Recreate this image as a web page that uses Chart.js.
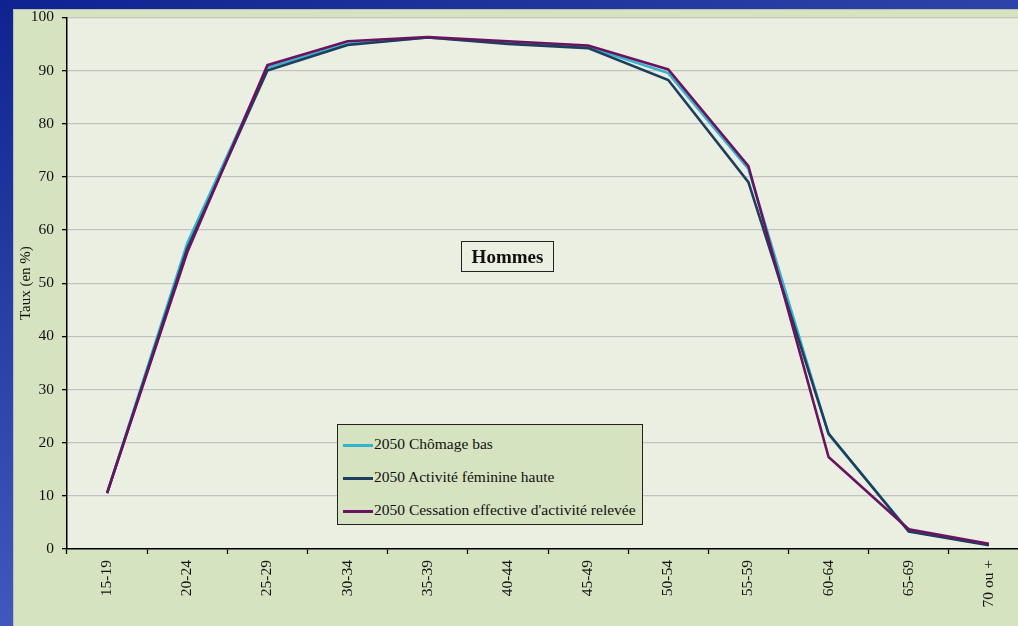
<!DOCTYPE html>
<html>
<head>
<meta charset="utf-8">
<script src="https://cdn.jsdelivr.net/npm/chart.js@4"></script>
<style>
  html, body { margin: 0; padding: 0; width: 1018px; height: 626px; overflow: hidden; }
  body {
    background: linear-gradient(160deg, #0e2390 0%, #2a42a8 35%, #4a62c4 75%, #6378d0 100%);
    position: relative;
    font-family: "Liberation Serif", "DejaVu Serif", serif;
  }
  #panel {
    position: absolute; left: 13px; top: 9px; width: 1020px; height: 630px;
    background: #d5e3c0; border-top: 1px solid #b9c2b0; border-left: 1px solid #b9c2b0;
  }
  #wrap { position: absolute; left: 13px; top: 0px; width: 1016px; height: 626px; }
  #titlebox {
    position: absolute; left: 461px; top: 241px; width: 91px; height: 29px;
    border: 1.5px solid #222; font-weight: bold; font-size: 19px; color: #111;
    text-align: center; line-height: 29px;
  }
  #legend {
    position: absolute; left: 337px; top: 424px; width: 304px; height: 99px;
    border: 1.5px solid #222; background: #d5e3c0; font-size: 15.5px; color: #111;
  }
  #legend .row { position: absolute; left: 5px; height: 18px; line-height: 18px; white-space: nowrap; }
  #legend .sw { display: inline-block; width: 30px; height: 2.5px; vertical-align: middle; margin-right: 1px; }
</style>
</head>
<body>
<div id="panel"></div>
<div id="wrap"><canvas id="chart"></canvas></div>
<div id="titlebox">Hommes</div>
<div id="legend"></div>
<script>
// ===================== données =====================
var ageGroups = ['15-19', '20-24', '25-29', '30-34', '35-39', '40-44', '45-49', '50-54', '55-59', '60-64', '65-69', '70 ou +'];
var chomageBas = [10.5, 57.5, 90.5, 95.0, 96.2, 95.2, 94.4, 89.5, 71.5, 21.6, 3.4, 0.8];
var activiteFeminine = [10.5, 56.5, 90.0, 94.8, 96.2, 95.0, 94.2, 88.2, 69.0, 21.7, 3.3, 0.7];
var cessationRelevee = [10.5, 55.8, 91.0, 95.5, 96.3, 95.5, 94.7, 90.2, 72.0, 17.3, 3.7, 1.0];
var seriesNames = ['2050 Chômage bas', '2050 Activité féminine haute', "2050 Cessation effective d'activité relevée"];
var seriesColors = ['#35b3cf', '#1f3d5c', '#6a145f'];

// fond de la zone de tracé
var plotBg = {
    id: 'plotBg',
    beforeDraw: function (chart) {
        var a = chart.chartArea, ctx = chart.ctx;
        ctx.save();
        ctx.fillStyle = '#ebefe1';
        ctx.fillRect(a.left, a.top, a.right - a.left, a.bottom - a.top);
        ctx.restore();
    }
};

var serif = { family: '"Liberation Serif", "DejaVu Serif", serif', size: 15.5 };

function makeSet(i, data) {
    return {
        label: seriesNames[i],
        data: data,
        borderColor: seriesColors[i],
        backgroundColor: seriesColors[i],
        borderWidth: 2.6,
        pointRadius: 0,
        tension: 0,
        fill: false
    };
}

// index 0 est dessiné en dernier (au-dessus)
new Chart(document.getElementById('chart'), {
    type: 'line',
    data: {
        labels: ageGroups,
        datasets: [
            makeSet(2, cessationRelevee),
            makeSet(1, activiteFeminine),
            makeSet(0, chomageBas)
        ]
    },
    options: {
        responsive: true,
        maintainAspectRatio: false,
        animation: false,
        layout: { padding: 0 },
        plugins: { legend: { display: false }, tooltip: { enabled: false } },
        scales: {
            x: {
                offset: true,
                afterFit: function (s) { s.height = 77; },
                grid: { offset: true, drawOnChartArea: false, tickLength: 5, tickColor: '#000', tickWidth: 1.3 },
                border: { color: '#000', width: 1.5 },
                ticks: { minRotation: 90, maxRotation: 90, color: '#111', font: serif, padding: 6, autoSkip: false }
            },
            y: {
                min: 0, max: 100,
                afterFit: function (s) { s.width = 54; },
                grid: { color: '#c2c2c2', lineWidth: 1.3, tickLength: 5, tickColor: '#000', tickWidth: 1.3 },
                border: { color: '#000', width: 1.5 },
                ticks: { stepSize: 10, color: '#111', font: serif, padding: 8 },
                title: { display: true, text: 'Taux (en %)', color: '#111', font: { family: serif.family, size: 15 }, padding: { top: 4, bottom: 0 } }
            }
        }
    },
    plugins: [plotBg]
});

// légende
var legend = document.getElementById('legend');
var rowTops = [10, 43, 76];
seriesNames.forEach(function (name, i) {
    var row = document.createElement('div');
    row.className = 'row';
    row.style.top = rowTops[i] + 'px';
    row.innerHTML = '<span class="sw" style="background:' + seriesColors[i] + '"></span>' + name;
    legend.appendChild(row);
});
</script>
</body>
</html>
